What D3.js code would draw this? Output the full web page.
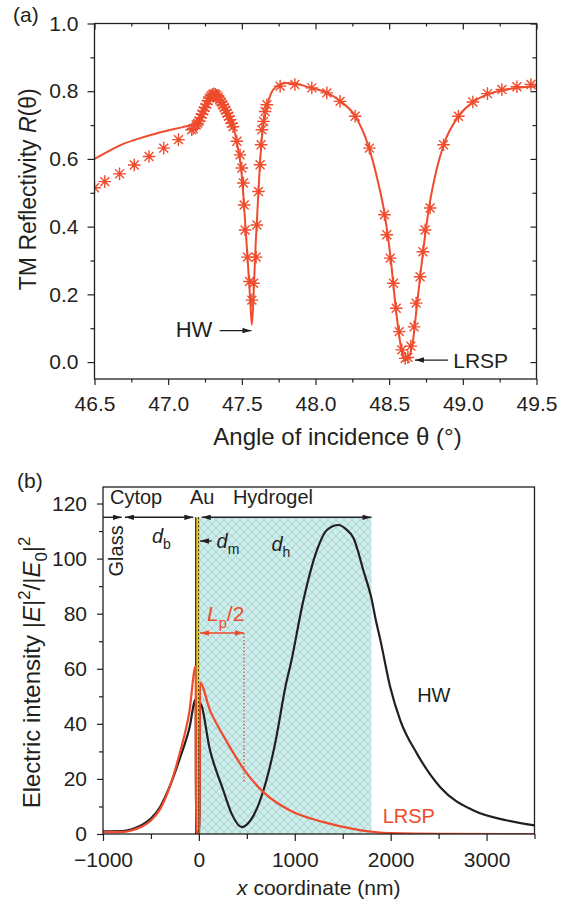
<!DOCTYPE html>
<html>
<head>
<meta charset="utf-8">
<script src="https://cdn.jsdelivr.net/npm/d3@7"></script>
<style>
  body { margin: 0; background: #fff; }
  svg text { font-family: 'Liberation Sans', Arial, Helvetica, sans-serif; fill: #231f20; }
</style>
</head>
<body>
<svg id="drawing_region"></svg>
<script>
// ---------- panel (a): TM reflectivity ----------
const angleTicks = [46.5, 47.0, 47.5, 48.0, 48.5, 49.0, 49.5];
const angleMinor = [46.75, 47.25, 47.75, 48.25, 48.75, 49.25];
const reflTicks = [0.0, 0.2, 0.4, 0.6, 0.8, 1.0];
const reflMinor = [0.1, 0.3, 0.5, 0.7, 0.9];

// fitted curve (solid line)
const fitAngle = [46.50, 46.60, 46.70, 46.80, 46.90, 47.00, 47.10, 47.15, 47.20, 47.25, 47.28, 47.30, 47.32,
  47.34, 47.37, 47.40, 47.44, 47.47, 47.50, 47.52, 47.54, 47.556, 47.568, 47.58, 47.59, 47.61, 47.625, 47.64,
  47.67, 47.70, 47.74, 47.80, 47.87, 47.95, 48.08, 48.17, 48.27, 48.36, 48.42, 48.47, 48.51, 48.545, 48.58,
  48.615, 48.655, 48.69, 48.73, 48.77, 48.82, 48.87, 48.97, 49.07, 49.16, 49.27, 49.37, 49.50];
const fitR = [0.600, 0.624, 0.645, 0.660, 0.673, 0.684, 0.694, 0.700, 0.712, 0.745, 0.772, 0.787, 0.795,
  0.790, 0.770, 0.745, 0.700, 0.640, 0.550, 0.430, 0.300, 0.190, 0.110, 0.200, 0.310, 0.480, 0.600, 0.680,
  0.755, 0.795, 0.815, 0.824, 0.822, 0.812, 0.795, 0.770, 0.726, 0.637, 0.540, 0.435, 0.307, 0.159, 0.045,
  0.006, 0.045, 0.174, 0.326, 0.455, 0.565, 0.642, 0.726, 0.768, 0.790, 0.803, 0.810, 0.815];

// measured points (asterisks)
const measAngle = [46.50, 46.57, 46.67, 46.77, 46.87, 46.97, 47.07, 47.16,
  47.17, 47.19, 47.20, 47.21, 47.22, 47.23, 47.24, 47.25, 47.26, 47.27, 47.28, 47.29, 47.30, 47.31, 47.32,
  47.33, 47.34, 47.35, 47.36, 47.37, 47.38, 47.39, 47.40, 47.41, 47.42, 47.43, 47.44,
  47.466, 47.488, 47.500, 47.511, 47.516, 47.522, 47.538, 47.552, 47.568, 47.579, 47.597, 47.602, 47.613,
  47.624, 47.631, 47.636, 47.647, 47.658, 47.670, 47.76, 47.86, 47.975, 48.077, 48.167, 48.269, 48.366,
  48.468, 48.484, 48.507, 48.529, 48.548, 48.568, 48.586, 48.609, 48.627, 48.647, 48.669, 48.683, 48.710,
  48.729, 48.744, 48.778, 48.869, 48.970, 49.068, 49.167, 49.265, 49.367, 49.462];
const measR = [0.515, 0.533, 0.556, 0.582, 0.607, 0.632, 0.657, 0.686,
  0.690, 0.700, 0.705, 0.712, 0.722, 0.732, 0.742, 0.752, 0.762, 0.772, 0.780, 0.786, 0.790, 0.792, 0.791,
  0.788, 0.782, 0.775, 0.768, 0.760, 0.752, 0.744, 0.735, 0.726, 0.716, 0.705, 0.695,
  0.652, 0.612, 0.573, 0.529, 0.464, 0.390, 0.310, 0.238, 0.183, 0.233, 0.310, 0.405, 0.504,
  0.583, 0.642, 0.686, 0.711, 0.740, 0.760, 0.815, 0.820, 0.810, 0.795, 0.770, 0.726, 0.632,
  0.435, 0.376, 0.307, 0.233, 0.159, 0.090, 0.036, 0.011, 0.014, 0.047, 0.104, 0.174, 0.252,
  0.326, 0.390, 0.455, 0.642, 0.726, 0.768, 0.793, 0.805, 0.813, 0.820];

// ---------- panel (b): field intensity profiles ----------
const coordTicks = [-1000, 0, 1000, 2000, 3000];
const coordMinor = [-500, 500, 1500, 2500, 3500];
const intensityTicks = [0, 20, 40, 60, 80, 100, 120];
const intensityMinor = [10, 30, 50, 70, 90, 110];

const layerNames = ['Glass', 'Cytop', 'Au', 'Hydrogel'];
const layerStart = [-1000, -790, -33, 11];
const layerEnd = [-790, -33, 11, 1800];

const hwX = [-1000, -900, -800, -700, -600, -500, -400, -300, -200, -100, -33, -30, 8, 11,
  116, 255, 340, 447, 540, 673, 790, 917, 951, 1090, 1230, 1335, 1455, 1540, 1612, 1717, 1800, 1840,
  1893, 1995, 2100, 2274, 2517, 2865, 3213, 3500];
const hwI = [1.0, 1.0, 1.05, 1.75, 3.2, 5.6, 10.1, 17.6, 27.3, 38.3, 49.0, 0.6, 0.6, 47.5,
  30.4, 15.8, 7.5, 2.5, 5.0, 15.8, 32.0, 55.8, 60.7, 84.9, 103.0, 110.4, 112.2, 110.5, 107.5, 95.5, 85.5, 78.5,
  70.4, 53.4, 41.3, 29.2, 17.0, 8.5, 4.9, 3.1];

const lrspX = [-1000, -900, -780, -700, -600, -500, -400, -300, -200, -100, -33, -30, 8, 11,
  116, 250, 350, 464, 673, 951, 1300, 1648, 1995, 2500, 3500];
const lrspI = [0.7, 0.7, 0.75, 1.3, 2.6, 4.9, 9.3, 17.5, 29.3, 44.3, 61.0, 0.5, 0.5, 55.0,
  44.9, 36.0, 30.0, 23.7, 15.2, 8.5, 4.3, 1.6, 0.3, 0.05, 0.0];

const penetrationHalf = 470; // Lp/2 in nm

// ---------- drawing ----------
const red = '#ef4b2c';
const ink = '#231f20';
const fs = 21;     // tick labels and annotations
const fsTitle = 24;

const svg = d3.select('#drawing_region')
  .attr('width', 565)
  .attr('height', 902);

const defs = svg.append('defs');

// arrowheads
[['arrowK', ink], ['arrowR', red]].forEach(([id, col]) => {
  defs.append('marker')
    .attr('id', id)
    .attr('viewBox', '0 0 10 6')
    .attr('refX', 10).attr('refY', 3)
    .attr('markerWidth', 9).attr('markerHeight', 5.4)
    .attr('markerUnits', 'userSpaceOnUse')
    .attr('orient', 'auto-start-reverse')
    .append('path')
    .attr('d', 'M0,0 L10,3 L0,6 z')
    .attr('fill', col);
});

// hydrogel cross hatch
const pat = defs.append('pattern')
  .attr('id', 'hatch')
  .attr('patternUnits', 'userSpaceOnUse')
  .attr('width', 8).attr('height', 8);
pat.append('rect').attr('width', 8).attr('height', 8).attr('fill', '#cfebea');
pat.append('path').attr('d', 'M0,0 L8,8 M8,0 L0,8')
  .attr('stroke', '#9fd6d3').attr('stroke-width', 0.9);

function addParts(text, parts, size) {
  let shift = 0;
  parts.forEach(([s, kind]) => {
    const t = text.append('tspan').text(s);
    let target = 0;
    if (kind === 'sub') target = size * 0.3;
    if (kind === 'sup') target = -size * 0.4;
    if (kind === 'sub' || kind === 'sup') t.attr('font-size', size * 0.7);
    if (kind === 'i') t.attr('font-style', 'italic');
    if (target !== shift) { t.attr('dy', target - shift); shift = target; }
  });
  return text;
}

function styleAxis(g) {
  g.select('.domain').remove();
  g.selectAll('line').attr('stroke', ink).attr('stroke-width', 1.2);
  g.selectAll('text').attr('font-size', fs).attr('fill', ink)
    .attr('font-family', "'Liberation Sans', Arial, sans-serif");
}

function axisPair(g, make, scale, major, minor, sMaj, sMin, pad, fmt, transform) {
  g.append('g').attr('transform', transform)
    .call(make(scale).tickValues(major).tickSize(sMaj).tickPadding(pad).tickFormat(fmt))
    .call(styleAxis);
  if (minor) {
    g.append('g').attr('transform', transform)
      .call(make(scale).tickValues(minor).tickSize(sMin).tickFormat(''))
      .call(styleAxis);
  }
}

function asterisk(r) {
  const a = r * 0.7071;
  return `M0,${-r}V${r}M${-r},0H${r}M${-a},${-a}L${a},${a}M${-a},${a}L${a},${-a}`;
}

// ===== panel (a) =====
const pa = { left: 94.5, right: 536.5, top: 23.5, bottom: 379 };
const xA = d3.scaleLinear().domain([46.5, 49.5]).range([pa.left, pa.right]);
const yA = d3.scaleLinear().domain([-0.05, 1.0]).range([pa.bottom, pa.top]);
const gA = svg.append('g');

defs.append('clipPath').attr('id', 'clipA').append('rect')
  .attr('x', pa.left).attr('y', pa.top)
  .attr('width', pa.right - pa.left).attr('height', pa.bottom - pa.top);

const plotA = gA.append('g').attr('clip-path', 'url(#clipA)');

plotA.append('path')
  .datum(d3.zip(fitAngle, fitR))
  .attr('fill', 'none')
  .attr('stroke', red)
  .attr('stroke-width', 2)
  .attr('d', d3.line().x(d => xA(d[0])).y(d => yA(d[1])).curve(d3.curveMonotoneX));

plotA.selectAll('.meas')
  .data(d3.zip(measAngle, measR))
  .enter()
  .append('path')
  .attr('class', 'meas')
  .attr('transform', d => `translate(${xA(d[0])},${yA(d[1])})`)
  .attr('d', asterisk(6.3))
  .attr('fill', 'none')
  .attr('stroke', red)
  .attr('stroke-width', 1.4);

const fmt1 = d3.format('.1f');
axisPair(gA, d3.axisBottom, xA, angleTicks, angleMinor, 6, 3.5, 11, fmt1, `translate(0,${pa.bottom})`);
axisPair(gA, d3.axisTop, xA, angleTicks, angleMinor, -6, -3, 0, '', `translate(0,${pa.top})`);
axisPair(gA, d3.axisLeft, yA, reflTicks, reflMinor, 7, 4, 9, fmt1, `translate(${pa.left},0)`);
axisPair(gA, d3.axisRight, yA, reflTicks, reflMinor, -6, -4, 0, '', `translate(${pa.right},0)`);

gA.append('rect')
  .attr('x', pa.left).attr('y', pa.top)
  .attr('width', pa.right - pa.left).attr('height', pa.bottom - pa.top)
  .attr('fill', 'none').attr('stroke', ink).attr('stroke-width', 1.3);

// annotations (a)
gA.append('line')
  .attr('x1', xA(47.35)).attr('x2', xA(47.565))
  .attr('y1', yA(0.093)).attr('y2', yA(0.093))
  .attr('stroke', ink).attr('stroke-width', 1.3)
  .attr('marker-end', 'url(#arrowK)');
gA.append('text')
  .attr('x', xA(47.30)).attr('y', yA(0.074))
  .attr('text-anchor', 'end').attr('font-size', fs + 1)
  .text('HW');

gA.append('line')
  .attr('x1', xA(48.90)).attr('x2', xA(48.675))
  .attr('y1', yA(0.006)).attr('y2', yA(0.006))
  .attr('stroke', ink).attr('stroke-width', 1.3)
  .attr('marker-end', 'url(#arrowK)');
gA.append('text')
  .attr('x', xA(48.935)).attr('y', yA(-0.018))
  .attr('font-size', fs)
  .text('LRSP');

gA.append('text').attr('x', 13).attr('y', 22).attr('font-size', fs).text('(a)');

gA.append('text')
  .attr('x', (pa.left + pa.right) / 2 + 22).attr('y', 445)
  .attr('text-anchor', 'middle').attr('font-size', fsTitle)
  .text('Angle of incidence θ (°)');

addParts(gA.append('text')
  .attr('transform', `translate(36,${(pa.top + pa.bottom) / 2 - 12}) rotate(-90)`)
  .attr('text-anchor', 'middle').attr('font-size', fsTitle - 1),
  [['TM Reflectivity ', ''], ['R', 'i'], ['(θ)', '']], fsTitle - 1);

// ===== panel (b) =====
const pb = { left: 103, right: 534.5, top: 487, bottom: 834 };
const xB = d3.scaleLinear().domain([-1000, 3500]).range([pb.left, pb.right]);
const yB = d3.scaleLinear().domain([0, 126]).range([pb.bottom, pb.top]);
const gB = svg.append('g');
const layerTop = 115;

defs.append('clipPath').attr('id', 'clipB').append('rect')
  .attr('x', pb.left).attr('y', pb.top)
  .attr('width', pb.right - pb.left).attr('height', pb.bottom - pb.top);

const plotB = gB.append('g').attr('clip-path', 'url(#clipB)');

// hydrogel layer
plotB.append('rect')
  .attr('x', xB(layerStart[3])).attr('y', yB(layerTop))
  .attr('width', xB(layerEnd[3]) - xB(layerStart[3]))
  .attr('height', yB(0) - yB(layerTop))
  .attr('fill', 'url(#hatch)');

// gold layer
plotB.append('rect')
  .attr('x', xB(layerStart[2])).attr('y', yB(layerTop))
  .attr('width', xB(layerEnd[2]) - xB(layerStart[2]))
  .attr('height', yB(0) - yB(layerTop))
  .attr('fill', '#f4d21c');
plotB.append('line')
  .attr('x1', xB(layerStart[2])).attr('x2', xB(layerStart[2]))
  .attr('y1', yB(layerTop)).attr('y2', yB(0))
  .attr('stroke', ink).attr('stroke-width', 1.2);
plotB.append('line')
  .attr('x1', xB(-5)).attr('x2', xB(-5))
  .attr('y1', yB(layerTop)).attr('y2', yB(0))
  .attr('stroke', ink).attr('stroke-width', 1).attr('stroke-dasharray', '2,2');

const lineB = d3.line().x(d => xB(d[0])).y(d => yB(d[1])).curve(d3.curveMonotoneX);

plotB.append('path')
  .datum(d3.zip(hwX, hwI))
  .attr('fill', 'none').attr('stroke', ink).attr('stroke-width', 2.2)
  .attr('d', lineB);

plotB.append('path')
  .datum(d3.zip(lrspX, lrspI))
  .attr('fill', 'none').attr('stroke', red).attr('stroke-width', 2.2)
  .attr('d', lineB);

// Lp/2 marker
const lpLevel = 73;
gB.append('line')
  .attr('x1', xB(penetrationHalf)).attr('x2', xB(penetrationHalf))
  .attr('y1', yB(lpLevel)).attr('y2', yB(18.4))
  .attr('stroke', red).attr('stroke-width', 1.2).attr('stroke-dasharray', '1.5,2');
gB.append('line')
  .attr('x1', xB(layerEnd[2])).attr('x2', xB(penetrationHalf))
  .attr('y1', yB(lpLevel)).attr('y2', yB(lpLevel))
  .attr('stroke', red).attr('stroke-width', 1.5)
  .attr('marker-start', 'url(#arrowR)').attr('marker-end', 'url(#arrowR)');
addParts(gB.append('text').attr('x', xB(84)).attr('y', yB(77.2)).attr('font-size', fs).style('fill', red),
  [['L', 'i'], ['p', 'sub'], ['/2', '']], fs);

// layer arrows
function hArrow(x1, x2, v, both) {
  const l = gB.append('line')
    .attr('x1', xB(x1)).attr('x2', xB(x2))
    .attr('y1', yB(v)).attr('y2', yB(v))
    .attr('stroke', ink).attr('stroke-width', 1.4)
    .attr('marker-end', 'url(#arrowK)');
  if (both) l.attr('marker-start', 'url(#arrowK)');
}
hArrow(-1000, -805, layerTop, false);
hArrow(-771, -58, layerTop, true);
hArrow(30, layerEnd[3], layerTop, true);
hArrow(133, layerEnd[2], 106.4, false);

gB.append('text').attr('x', xB(-927)).attr('y', yB(119.8)).attr('font-size', fs - 1).text(layerNames[1]);
gB.append('text').attr('x', xB(-93)).attr('y', yB(119.8)).attr('font-size', fs - 1).text(layerNames[2]);
gB.append('text').attr('x', xB(355)).attr('y', yB(119.8)).attr('font-size', fs - 1).text(layerNames[3]);
gB.append('text')
  .attr('transform', `translate(${xB(-791)},${yB(102.8)}) rotate(-90)`)
  .attr('text-anchor', 'middle').attr('font-size', fs - 1)
  .text(layerNames[0]);

addParts(gB.append('text').attr('x', xB(-489)).attr('y', yB(105.6)).attr('font-size', fs - 1),
  [['d', 'i'], ['b', 'sub']], fs - 1);
addParts(gB.append('text').attr('x', xB(184)).attr('y', yB(103.8)).attr('font-size', fs - 1),
  [['d', 'i'], ['m', 'sub']], fs - 1);
addParts(gB.append('text').attr('x', xB(757)).attr('y', yB(102.8)).attr('font-size', fs - 1),
  [['d', 'i'], ['h', 'sub']], fs - 1);

gB.append('text').attr('x', xB(2276)).attr('y', yB(47.9)).attr('font-size', fs - 1).text('HW');
gB.append('text').attr('x', xB(1917)).attr('y', yB(4.0)).attr('font-size', fs - 1)
  .style('fill', red).text('LRSP');

// axes (b)
const fmt0 = d3.format('d');
const fmtX = d => d < 0 ? '\u2212' + Math.abs(d) : String(d);
axisPair(gB, d3.axisBottom, xB, coordTicks, coordMinor, 7, 5, 11, fmtX, `translate(0,${pb.bottom})`);
axisPair(gB, d3.axisLeft, yB, intensityTicks, intensityMinor, 6, 4, 10, fmt0, `translate(${pb.left},0)`);

gB.append('rect')
  .attr('x', pb.left).attr('y', pb.top)
  .attr('width', pb.right - pb.left).attr('height', pb.bottom - pb.top)
  .attr('fill', 'none').attr('stroke', ink).attr('stroke-width', 1.3);

gB.append('text').attr('x', 17).attr('y', 488).attr('font-size', fs).text('(b)');

addParts(gB.append('text')
  .attr('x', (pb.left + pb.right) / 2).attr('y', 895)
  .attr('text-anchor', 'middle').attr('font-size', fs),
  [['x', 'i'], [' coordinate (nm)', '']], fs);

addParts(gB.append('text')
  .attr('transform', `translate(40,${(pb.top + pb.bottom) / 2 + 12}) rotate(-90)`)
  .attr('text-anchor', 'middle').attr('font-size', fsTitle),
  [['Electric intensity |', ''], ['E', 'i'], ['|', ''], ['2', 'sup'], ['/|', ''], ['E', 'i'], ['0', 'sub'],
   ['|', ''], ['2', 'sup']], fsTitle);
</script>
</body>
</html>
